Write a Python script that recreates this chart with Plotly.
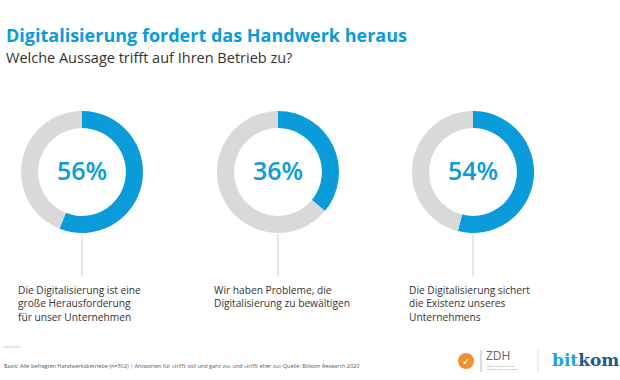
import plotly.graph_objects as go

title = "Digitalisierung fordert das Handwerk heraus"
subtitle = "Welche Aussage trifft auf Ihren Betrieb zu?"
shares = [56, 36, 54]
statements = [
    "Die Digitalisierung ist eine<br>große Herausforderung<br>für unser Unternehmen",
    "Wir haben Probleme, die<br>Digitalisierung zu bewältigen",
    "Die Digitalisierung sichert<br>die Existenz unseres<br>Unternehmens",
]
footer = ("Basis: Alle befragten Handwerksbetriebe (n=502) | Antworten für »trifft voll und ganz zu« "
          "und »trifft eher zu« Quelle: Bitkom Research 2020")

BLUE = "#0a9bdb"
GRAY = "#d9d9d9"
W, H = 620, 380
FONT = "Open Sans"

centers_px = [82, 278, 473]
cy_px = 172
r_px = 61

fig = go.Figure()
annotations = []
shapes = []
for i, (v, cx) in enumerate(zip(shares, centers_px)):
    fig.add_trace(go.Pie(
        values=[v, 100 - v],
        marker=dict(colors=[BLUE, GRAY], line=dict(width=0)),
        hole=0.72, sort=False, direction="clockwise", rotation=0,
        textinfo="none", hoverinfo="skip", showlegend=False,
        domain=dict(x=[(cx - r_px) / W, (cx + r_px) / W],
                    y=[1 - (cy_px + r_px) / H, 1 - (cy_px - r_px) / H]),
    ))
    annotations.append(dict(
        x=cx / W, y=1 - (cy_px - 2) / H, xref="paper", yref="paper",
        text=f"{v}%", showarrow=False, xanchor="center", yanchor="middle",
        font=dict(family=FONT, size=25, color=BLUE, weight=600)))
    shapes.append(dict(type="line", xref="paper", yref="paper",
                       x0=cx / W, x1=cx / W, y0=1 - 234 / H, y1=1 - 276 / H,
                       line=dict(color="#cfcfcf", width=1)))
    annotations.append(dict(
        x=(cx - 66) / W, y=1 - 281 / H, xref="paper", yref="paper",
        text=statements[i], showarrow=False, xanchor="left", yanchor="top", align="left",
        font=dict(family=FONT, size=10.2, color="#333333")))

annotations += [
    dict(x=4 / W, y=1 - 35 / H, xref="paper", yref="paper", text=title, showarrow=False,
         xanchor="left", yanchor="middle",
         font=dict(family=FONT, size=18, color=BLUE, weight=700)),
    dict(x=4 / W, y=1 - 57 / H, xref="paper", yref="paper", text=subtitle, showarrow=False,
         xanchor="left", yanchor="middle", font=dict(family=FONT, size=14.5, color="#333333")),
    dict(x=2 / W, y=1 - 366 / H, xref="paper", yref="paper", text=footer, showarrow=False,
         xanchor="left", yanchor="middle", font=dict(family=FONT, size=5.5, color="#555555")),
    dict(x=466 / W, y=1 - 361 / H, xref="paper", yref="paper", text="✓", showarrow=False,
         xanchor="center", yanchor="middle", font=dict(family="DejaVu Sans", size=10, color="white", weight=700)),
    dict(x=484 / W, y=1 - 355 / H, xref="paper", yref="paper", text="ZDH", showarrow=False,
         xanchor="left", yanchor="middle", font=dict(family=FONT, size=12, color="#666666")),
    dict(x=485 / W, y=1 - 367 / H, xref="paper", yref="paper",
         text="ZENTRALVERBAND DES<br>DEUTSCHEN HANDWERKS", showarrow=False, align="left",
         xanchor="left", yanchor="middle", font=dict(family=FONT, size=2.5, color="#888888")),
    dict(x=550 / W, y=1 - 360 / H, xref="paper", yref="paper",
         text="<span style='color:#1fa3dd'>bit</span><span style='color:#1b5d86'>kom</span>",
         showarrow=False, xanchor="left", yanchor="middle",
         font=dict(family="DejaVu Serif", size=17, weight=700)),
]

shapes += [
    dict(type="line", xref="paper", yref="paper", x0=3 / W, x1=20 / W, y0=1 - 347 / H, y1=1 - 347 / H,
         line=dict(color="#cccccc", width=1)),
    dict(type="circle", xref="paper", yref="paper", x0=458 / W, x1=474 / W, y0=1 - 369 / H, y1=1 - 353 / H,
         fillcolor="#f0912f", line=dict(width=0)),
    dict(type="line", xref="paper", yref="paper", x0=481 / W, x1=481 / W, y0=1 - 350 / H, y1=1 - 372 / H,
         line=dict(color="#999999", width=0.7)),
    dict(type="line", xref="paper", yref="paper", x0=538 / W, x1=538 / W, y0=1 - 349 / H, y1=1 - 372 / H,
         line=dict(color="#dddddd", width=1)),
]

fig.update_layout(width=W, height=H, margin=dict(l=0, r=0, t=0, b=0),
                  paper_bgcolor="white", plot_bgcolor="white",
                  annotations=annotations, shapes=shapes)
fig.write_html("out.html", config={"displayModeBar": False},
               post_script="document.body.style.margin='0';document.body.style.overflow='hidden';")
